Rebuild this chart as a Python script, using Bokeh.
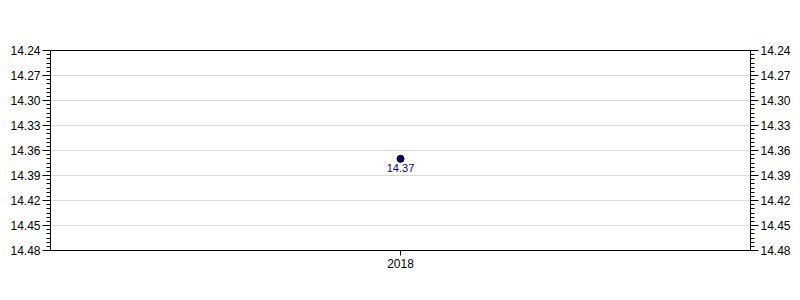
from bokeh.plotting import figure
from bokeh.models import (ColumnDataSource, FixedTicker, LinearAxis, Range1d,
                          FactorRange, LabelSet)
from bokeh.core.properties import value
from bokeh.embed import file_html
from bokeh.resources import INLINE

years = ["2018"]
values = [14.37]
labels = ["14.37"]
y_ticks = [14.24, 14.27, 14.30, 14.33, 14.36, 14.39, 14.42, 14.45, 14.48]
y_min, y_max = 14.24, 14.48

src = ColumnDataSource(dict(x=years, y=values, lab=labels))

p = figure(width=800, height=300, output_backend="svg", toolbar_location=None,
           x_range=FactorRange(*years), y_range=Range1d(y_max, y_min),
           y_axis_location="left", min_border_left=50, min_border_right=50,
           min_border_top=50, min_border_bottom=50)
p.background_fill_color = "white"
p.border_fill_color = "white"
p.outline_line_color = "black"
p.outline_line_width = 1

minor = [round(y_min + i * 0.005, 3) for i in range(int(round((y_max - y_min) / 0.005)) + 1)]
ticker = FixedTicker(ticks=y_ticks, minor_ticks=minor)

def style_axis(ax):
    ax.ticker = ticker
    ax.major_label_overrides = {t: f"{t:.2f}" for t in y_ticks}
    ax.axis_line_color = "black"
    ax.major_tick_line_color = "black"
    ax.minor_tick_line_color = "black"
    ax.major_tick_out = 8
    ax.major_tick_in = 0
    ax.minor_tick_out = 4
    ax.minor_tick_in = 0
    ax.major_label_standoff = 2
    ax.major_label_text_font = "Liberation Sans"
    ax.major_label_text_font_size = "12px"
    ax.major_label_text_color = "black"

style_axis(p.yaxis[0])
right_ax = LinearAxis()
style_axis(right_ax)
p.add_layout(right_ax, "right")

xa = p.xaxis[0]
xa.axis_line_color = "black"
xa.major_tick_line_color = "black"
xa.major_tick_out = 5
xa.major_tick_in = 0
xa.major_label_standoff = 3
xa.major_label_text_font = "Liberation Sans"
xa.major_label_text_font_size = "12px"
xa.major_label_text_color = "black"

p.xgrid.grid_line_color = None
p.ygrid.ticker = FixedTicker(ticks=y_ticks[1:-1])
p.ygrid.grid_line_color = "#d9d9d9"
p.ygrid.grid_line_width = 1

p.scatter("x", "y", source=src, size=7, fill_color="#000080", line_color="black", line_width=1)
p.add_layout(LabelSet(x="x", y="y", text="lab", source=src, text_align="center",
                      text_baseline="top", y_offset=-5, text_color="#0000a0",
                      text_font=value("Liberation Sans"), text_font_size="11px"))

open("out.html", "w").write(file_html(p, INLINE))
